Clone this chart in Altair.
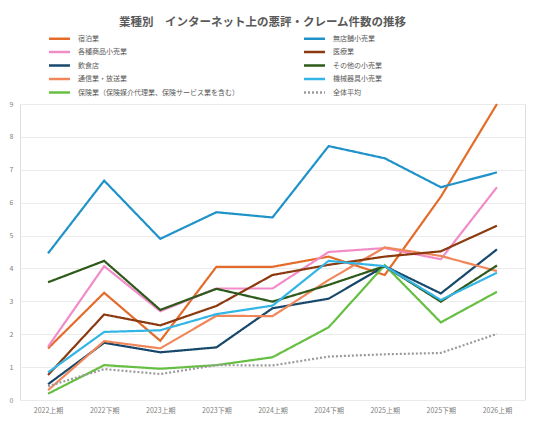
import altair as alt
import pandas as pd

periods = ["2022上期", "2022下期", "2023上期", "2023下期", "2024上期",
           "2024下期", "2025上期", "2025下期", "2026上期"]

# legend order (left column first, then right column)
series_names = [
    "宿泊業", "各種商品小売業", "飲食店", "通信業・放送業",
    "保険業（保険媒介代理業、保険サービス業を含む）",
    "無店舗小売業", "医療業", "その他の小売業", "機械器具小売業", "全体平均",
]

shukuhaku = [1.57, 3.26, 1.80, 4.05, 4.05, 4.36, 3.80, 6.18, 9.0]
kakushu = [1.62, 4.07, 2.70, 3.39, 3.39, 4.50, 4.62, 4.28, 6.47]
inshoku = [0.48, 1.74, 1.45, 1.60, 2.79, 3.08, 4.07, 3.24, 4.58]
tsushin = [0.30, 1.79, 1.57, 2.56, 2.55, 3.65, 4.64, 4.38, 3.92]
hoken = [0.19, 1.06, 0.95, 1.06, 1.30, 2.21, 4.10, 2.36, 3.29]
mutenpo = [4.46, 6.67, 4.90, 5.71, 5.55, 7.72, 7.35, 6.47, 6.92]
iryo = [0.76, 2.60, 2.27, 2.86, 3.80, 4.11, 4.36, 4.52, 5.30]
sonota = [3.58, 4.23, 2.74, 3.38, 2.99, 3.50, 4.07, 2.99, 4.09]
kikai = [0.84, 2.07, 2.12, 2.61, 2.87, 4.23, 4.07, 3.04, 3.87]
heikin = [0.42, 0.94, 0.79, 1.06, 1.05, 1.32, 1.39, 1.43, 2.01]

values = [shukuhaku, kakushu, inshoku, tsushin, hoken,
          mutenpo, iryo, sonota, kikai, heikin]

colors = ["#E36C2B", "#F28CC8", "#17486B", "#F0875A", "#66BF43",
          "#1F93C9", "#8B3A10", "#2D5A1B", "#33B5E5", "#9A9A9A"]
dashes = [[1, 0]] * 9 + [[2, 2]]

rows = []
for name, vals in zip(series_names, values):
    for p, v in zip(periods, vals):
        rows.append({"業種": name, "期間": p, "件数": v})
df = pd.DataFrame(rows)

FONT = "Noto Sans CJK JP"

legend_cfg = dict(title=None, orient="none", legendX=33, legendY=-72,
                  columns=2, columnPadding=60, rowPadding=1.5,
                  symbolType="M-2,0H2", symbolSize=110, symbolStrokeWidth=2.5,
                  labelFontSize=7, labelColor="#595959", labelFont=FONT,
                  labelOffset=12, labelLimit=400)

chart = alt.Chart(df).mark_line(strokeWidth=2.2).encode(
    x=alt.X("期間:N", sort=periods, title=None,
            scale=alt.Scale(type="point", padding=0.5),
            axis=alt.Axis(labelAngle=0, ticks=False, domain=False, grid=False,
                          labelFontSize=7, labelColor="#7F7F7F", labelPadding=6,
                          labelFont=FONT)),
    y=alt.Y("件数:Q", title=None,
            scale=alt.Scale(domain=[0, 9], nice=False),
            axis=alt.Axis(values=list(range(10)), ticks=False, domain=False,
                          gridColor="#EBEBEB", labelFontSize=7, labelColor="#7F7F7F",
                          labelPadding=7, labelFont=FONT)),
    color=alt.Color("業種:N", sort=series_names,
                    scale=alt.Scale(domain=series_names, range=colors),
                    legend=alt.Legend(**legend_cfg)),
    strokeDash=alt.StrokeDash("業種:N", sort=series_names,
                              scale=alt.Scale(domain=series_names, range=dashes),
                              legend=alt.Legend(**legend_cfg)),
    order=alt.Order("期間:N"),
).properties(
    width=505,
    height=296,
    title=alt.TitleParams("業種別　インターネット上の悪評・クレーム件数の推移",
                          fontSize=11.5, fontWeight="bold", color="#595959",
                          font=FONT, anchor="middle", frame="group", offset=4,
                          dx=-10),
    autosize=alt.AutoSizeParams(type="none"),
    padding={"left": 12, "top": 96, "right": 3, "bottom": 20},
).configure_view(stroke="#D9D9D9", strokeWidth=1).configure(background="white")

chart.save("out.html", embed_options={"renderer": "svg", "actions": False})
